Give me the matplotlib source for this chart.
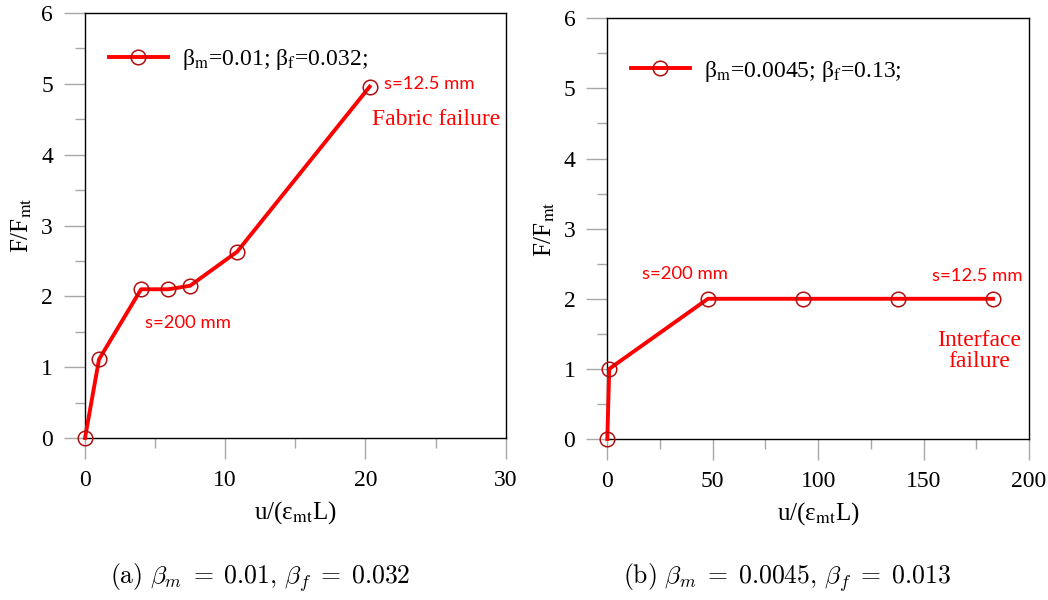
import matplotlib.pyplot as plt
from matplotlib.ticker import MultipleLocator

# Load-slip curves for two fabric configurations
u_a = [0, 1.0, 4.0, 5.95, 7.5, 10.85, 20.3]
f_a = [0, 1.11, 2.1, 2.1, 2.15, 2.63, 4.96]

u_b = [0, 0.9, 47.7, 92.9, 138.0, 182.9]
f_b = [0, 1.0, 2.0, 2.0, 2.0, 2.0]

label_a = r'β$_{\rm m}$=0.01; β$_{\rm f}$=0.032;'
label_b = r'β$_{\rm m}$=0.0045; β$_{\rm f}$=0.13;'
caption_a = r'$\mathrm{(a)}\ \beta_m\;=\;0.01,\,\beta_f\;=\;0.032$'
caption_b = r'$\mathrm{(b)}\ \beta_m\;=\;0.0045,\,\beta_f\;=\;0.013$'

plt.rcParams['font.family'] = ['Liberation Serif', 'DejaVu Serif']
plt.rcParams['mathtext.fontset'] = 'stix'

RED = '#ff0000'
EDGE = '#b01010'
GREY = '#a8a8a8'
SANS = 'Lato'

fig = plt.figure(figsize=(10.48, 6), dpi=100)
ax1 = fig.add_axes([0.0811, 0.270, 0.4014, 0.7083])
ax2 = fig.add_axes([0.5795, 0.2683, 0.4024, 0.7012])


def style_axes(ax, xmax, xmajor):
    ax.set_xlim(0, xmax)
    ax.set_ylim(0, 6)
    ax.xaxis.set_major_locator(MultipleLocator(xmajor))
    ax.xaxis.set_minor_locator(MultipleLocator(xmajor / 2))
    ax.yaxis.set_major_locator(MultipleLocator(1))
    ax.yaxis.set_minor_locator(MultipleLocator(0.5))
    ax.tick_params(which='major', direction='out', length=15, width=1,
                   color=GREY, labelsize=17, pad=8)
    ax.tick_params(which='minor', direction='out', length=7.5, width=1, color=GREY)
    for sp in ax.spines.values():
        sp.set_color('black')
        sp.set_linewidth(1)
    ax.set_xlabel(r'u/(ε$_{\rm mt}$L)', fontsize=18, labelpad=6)
    ax.set_ylabel(r'F/F$_{\rm mt}$', fontsize=18, labelpad=5)


for ax, u, f, lab in [(ax1, u_a, f_a, label_a), (ax2, u_b, f_b, label_b)]:
    ax.plot(u, f, color=RED, lw=2.8, marker='o', markersize=10.5,
            markerfacecolor='none', markeredgecolor=EDGE, markeredgewidth=1.1,
            label=lab, clip_on=False, zorder=3)

style_axes(ax1, 30, 10)
style_axes(ax2, 200, 50)

ax1.legend(loc='upper left', bbox_to_anchor=(0.0, 0.975), frameon=False,
           fontsize=17, handlelength=2.5, handletextpad=0.6, borderaxespad=0.6)
ax2.legend(loc='upper left', bbox_to_anchor=(0.0, 0.96), frameon=False,
           fontsize=17, handlelength=2.5, handletextpad=0.6, borderaxespad=0.6)

# annotations, panel (a)
ax1.text(21.3, 5.0, 's=12.5 mm', color=RED, fontsize=13.3, family=SANS, va='center')
ax1.text(20.5, 4.5, 'Fabric failure', color=RED, fontsize=17, va='center')
ax1.text(4.3, 1.63, 's=200 mm', color=RED, fontsize=13.3, family=SANS, va='center')

# annotations, panel (b)
ax2.text(37, 2.36, 's=200 mm', color=RED, fontsize=13.3, family=SANS, ha='center', va='center')
ax2.text(175.5, 2.33, 's=12.5 mm', color=RED, fontsize=13.3, family=SANS, ha='center', va='center')
ax2.text(176.5, 1.25, 'Interface\nfailure', color=RED, fontsize=17, ha='center', va='center',
         linespacing=1.0)

fig.text(0.248, 0.037, caption_a, fontsize=18.5, ha='center', va='center', math_fontfamily='cm')
fig.text(0.751, 0.037, caption_b, fontsize=18.5, ha='center', va='center', math_fontfamily='cm')

fig.savefig('out.png', dpi=100)
